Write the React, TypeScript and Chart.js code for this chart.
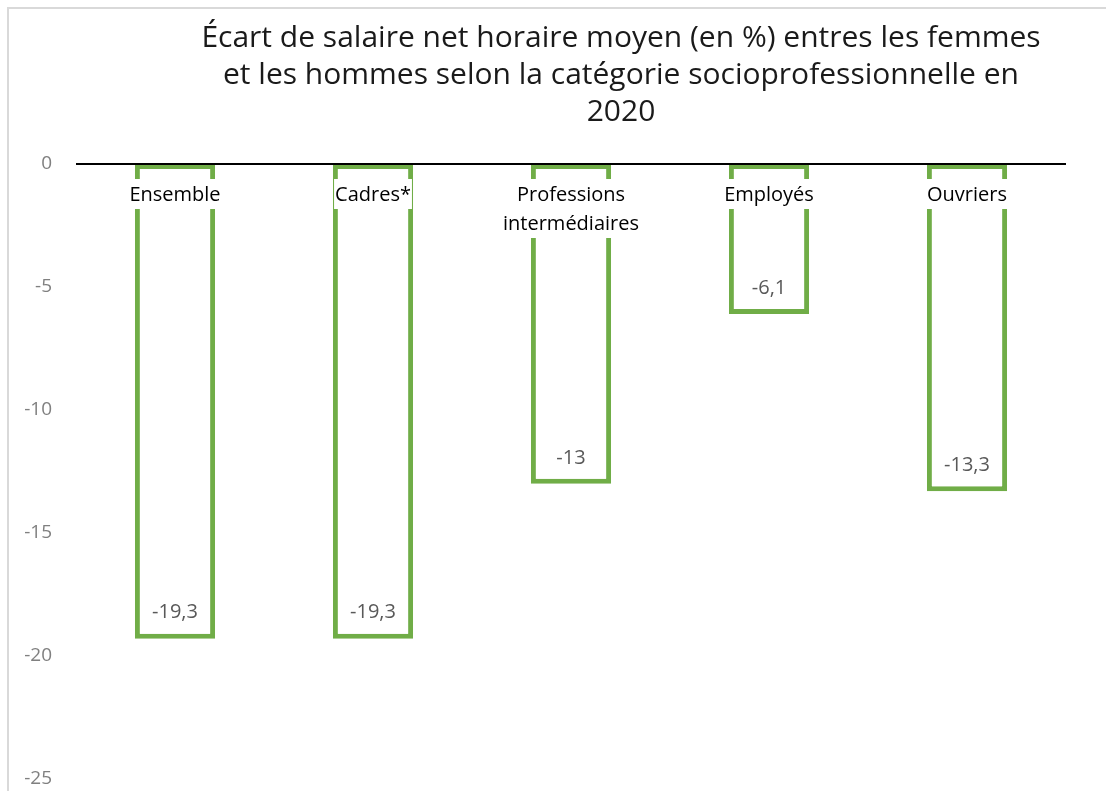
import React, { useEffect, useRef } from "react";
import { Chart, registerables } from "chart.js";

Chart.register(...registerables);

const titleLines = [
  "Écart de salaire net horaire moyen (en %) entres les femmes",
  "et les hommes selon la catégorie socioprofessionnelle en",
  "2020",
];
const categories: string[][] = [
  ["Ensemble"],
  ["Cadres*"],
  ["Professions", "intermédiaires"],
  ["Employés"],
  ["Ouvriers"],
];
const values = [-19.3, -19.3, -13, -6.1, -13.3];
const yMin = -25;
const yMax = 0;
const yStep = 5;

const FONT = "'Open Sans', Lato, sans-serif";
const GREEN = "#70AD47";

const decorPlugin = {
  id: "decor",
  beforeDraw(chart: any) {
    const ctx = chart.ctx;
    ctx.save();
    ctx.fillStyle = "#d9d9d9";
    ctx.fillRect(7, 7, chart.width - 7, 2);
    ctx.fillRect(7, 7, 2, chart.height - 7);
    // title
    ctx.fillStyle = "#1a1a1a";
    ctx.font = `30px ${FONT}`;
    ctx.textAlign = "center";
    ctx.textBaseline = "middle";
    const cx = 621;
    titleLines.forEach((l, i) => ctx.fillText(l, cx, 38 + i * 37));
    ctx.restore();
  },
  afterDatasetsDraw(chart: any) {
    const ctx = chart.ctx;
    const y0 = chart.scales.y.getPixelForValue(0);
    const meta = chart.getDatasetMeta(0);
    ctx.save();
    ctx.font = `20px ${FONT}`;
    ctx.textAlign = "center";
    ctx.textBaseline = "middle";
    meta.data.forEach((bar: any, i: number) => {
      const lines = categories[i];
      const lh = 29;
      let w = 0;
      lines.forEach((l) => (w = Math.max(w, ctx.measureText(l).width)));
      const top = y0 + 15;
      ctx.fillStyle = "#ffffff";
      ctx.fillRect(bar.x - w / 2 - 1, top, w + 2, lines.length * lh + 1);
      ctx.fillStyle = "#000000";
      lines.forEach((l, j) => ctx.fillText(l, bar.x, top + 16 + j * lh));
      // value label
      ctx.fillStyle = "#595959";
      const txt = String(values[i]).replace(".", ",");
      ctx.fillText(txt, bar.x, bar.y - 26);
    });
    // zero line
    ctx.strokeStyle = "#000000";
    ctx.lineWidth = 2;
    ctx.beginPath();
    ctx.moveTo(chart.chartArea.left, y0);
    ctx.lineTo(chart.chartArea.right, y0);
    ctx.stroke();
    ctx.restore();
  },
};

export default function App() {
  const ref = useRef<HTMLCanvasElement>(null);
  useEffect(() => {
    if (!ref.current) return;
    const chart = new Chart(ref.current, {
      type: "bar",
      data: {
        labels: categories.map((c) => c.join(" ")),
        datasets: [
          {
            data: values,
            backgroundColor: "#ffffff",
            borderColor: GREEN,
            borderWidth: 5,
            borderSkipped: false,
            barPercentage: 0.81,
            categoryPercentage: 0.5,
          },
        ],
      },
      options: {
        animation: false,
        responsive: true,
        maintainAspectRatio: false,
        layout: { padding: { top: 164, right: 40, bottom: 12, left: 0 } },
        plugins: {
          legend: { display: false },
          title: { display: false },
          tooltip: { enabled: false },
        },
        scales: {
          x: { display: false },
          y: {
            min: yMin,
            max: yMax,
            border: { display: false },
            grid: { display: false, drawTicks: false },
            ticks: {
              stepSize: yStep,
              padding: 24,
              color: "#808080",
              font: { family: FONT, size: 19 },
              callback: (v: any) => String(v),
            },
            afterFit: (s: any) => {
              s.width = 76;
              s.paddingTop = 0;
              s.paddingBottom = 0;
            },
          },
        },
      },
      plugins: [decorPlugin],
    });
    return () => chart.destroy();
  }, []);
  return (
    <div style={{ position: "fixed", left: 0, top: 0, width: 1106, height: 791, background: "#fff" }}>
      <canvas ref={ref} />
    </div>
  );
}
